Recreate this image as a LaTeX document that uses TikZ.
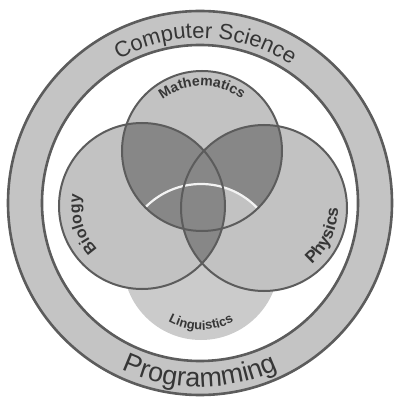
\documentclass[tikz,border=0pt]{standalone}
\usepackage{fontspec}
\setmainfont{Liberation Sans}
\usetikzlibrary{
  calc,
  decorations.text
}
\definecolor{band}{HTML}{C4C4C4}
\definecolor{field}{HTML}{C2C2C2}
\definecolor{overlap}{HTML}{878787}
\definecolor{rim}{HTML}{5C5C5C}
\definecolor{label}{HTML}{363636}

\tikzset{
  rimline/.style={draw=rim, line width=2pt},
  ringline/.style={draw=rim, line width=2.6pt},
  curved/.style 2 args={decorate, decoration={text along path, text align=center,
    text color=label, text={|\fontsize{#1}{#1}\selectfont|#2}}},
  boldcurved/.style 2 args={decorate, decoration={text along path, text align=center,
    text color=label, text={|\bfseries\fontsize{#1}{#1}\selectfont|#2}}}
}

\begin{document}
\begin{tikzpicture}[x=1pt, y=1pt]
  \useasboundingbox (-200,-198) rectangle (196,203);

  % Centres
  \coordinate (cs)   at (0,0);
  \coordinate (math) at (2,52);
  \coordinate (bio)  at (-58,-3);
  \coordinate (phys) at (64,-5);
  \coordinate (ling) at (1,-59);

  % Outer band
  \fill[band, even odd rule] (cs) circle[radius=192pt] (cs) circle[radius=158pt];
  \draw[ringline] (cs) circle[radius=192pt];
  \draw[ringline] (cs) circle[radius=158pt];

  % Fields
  \fill[field!85!white] (ling) circle[radius=78pt];
  \foreach \c/\r in {bio/83, phys/83, math/80}
    \fill[field] (\c) circle[radius=\r pt];

  % Overlaps
  \begin{scope}
    \clip (math) circle[radius=80pt];
    \fill[overlap] (bio) circle[radius=83pt];
  \end{scope}
  \begin{scope}
    \clip (bio) circle[radius=83pt];
    \fill[overlap] (phys) circle[radius=83pt];
  \end{scope}
  \begin{scope}
    \clip (math) circle[radius=80pt];
    \clip (phys) circle[radius=83pt];
    \fill[overlap, even odd rule] (-200,-200) rectangle (200,200) (ling) circle[radius=78pt];
  \end{scope}
  \begin{scope}
    \clip (math) circle[radius=80pt];
    \draw[white!80!field, line width=2.2pt] (ling) circle[radius=78pt];
  \end{scope}

  % Outlines
  \foreach \c/\r in {bio/83, phys/83, math/80}
    \draw[rimline] (\c) circle[radius=\r pt];

  % Labels
  \path[curved={22}{Computer Science}] (178:165pt) arc[start angle=178, end angle=-2, radius=165pt];
  \path[curved={27}{Programming}] (190:184pt) arc[start angle=190, end angle=350, radius=184pt];
  \path[boldcurved={14}{Mathematics}] ($(math)+(150:65pt)$) arc[start angle=150, end angle=30, radius=65pt];
  \path[boldcurved={16}{Biology}] ($(bio)+(242:62pt)$) arc[start angle=242, end angle=152, radius=62pt];
  \path[boldcurved={17}{Physics}] ($(phys)+(-70:74pt)$) arc[start angle=-70, end angle=20, radius=74pt];
  \path[boldcurved={13}{Linguistics}] ($(ling)+(220:68pt)$) arc[start angle=220, end angle=320, radius=68pt];
\end{tikzpicture}
\end{document}
